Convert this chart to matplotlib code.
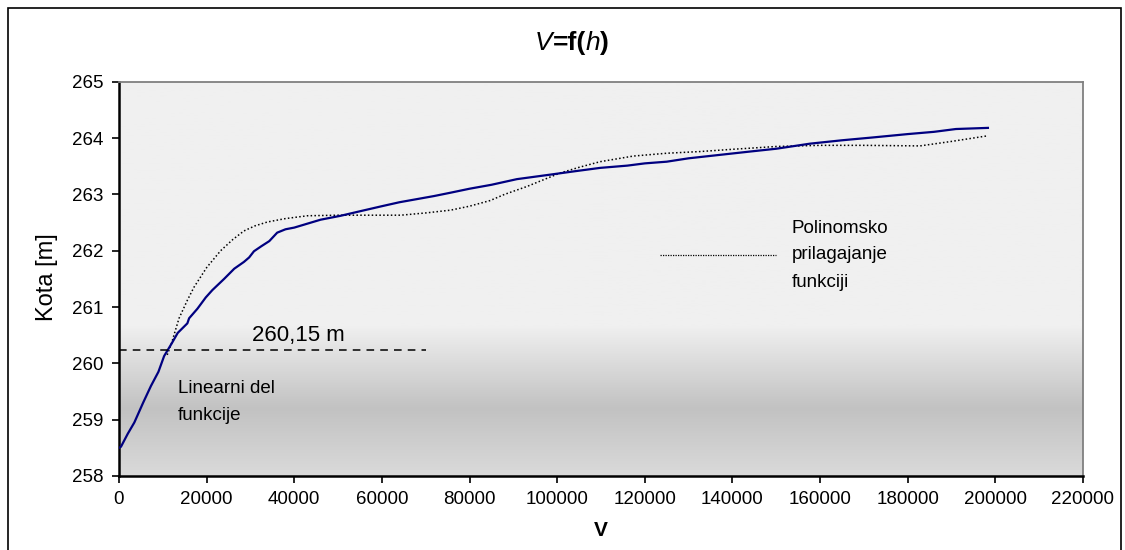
import numpy as np
import matplotlib
matplotlib.use("Agg")
import matplotlib.pyplot as plt
from matplotlib.colors import LinearSegmentedColormap
from matplotlib.patches import Rectangle

# ---- data ----
v_meas = [0, 450, 2000, 3500, 5500, 7300, 9000, 10300, 12000, 13400, 15600, 16000,
          17900, 19800, 21300, 24000, 26300, 28500, 29700, 30800, 32500, 34300,
          36100, 38000, 40000, 43000, 46000, 50600, 55000, 60000, 64000, 71900,
          75700, 80000, 85000, 90800, 98400, 104000, 109800, 116000, 120000,
          125000, 130000, 137000, 144000, 150000, 157700, 165000, 172000, 180000,
          186000, 191000, 198300]
h_meas = [258.50, 258.52, 258.75, 258.95, 259.30, 259.60, 259.85, 260.13, 260.35,
          260.54, 260.71, 260.80, 260.97, 261.17, 261.30, 261.50, 261.68, 261.80,
          261.88, 261.99, 262.08, 262.17, 262.32, 262.38, 262.41, 262.48, 262.55,
          262.62, 262.70, 262.79, 262.86, 262.97, 263.03, 263.10, 263.17, 263.27,
          263.35, 263.41, 263.47, 263.51, 263.55, 263.58, 263.64, 263.70, 263.76,
          263.81, 263.90, 263.96, 264.01, 264.07, 264.11, 264.16, 264.18]

v_poly = [11000, 12000, 13700, 15600, 17100, 20000, 23200, 26000, 28500, 31000,
          33900, 38000, 43000, 50000, 57000, 64300, 70000, 75700, 80000, 84700,
          88000, 93100, 100700, 105000, 109800, 117400, 125000, 132600, 140000,
          144100, 150000, 160000, 170000, 182800, 190000, 198300]
h_poly = [260.15, 260.36, 260.80, 261.12, 261.35, 261.70, 262.00, 262.20, 262.35,
          262.44, 262.51, 262.57, 262.62, 262.63, 262.63, 262.63, 262.67, 262.72,
          262.79, 262.89, 263.00, 263.14, 263.38, 263.48, 263.58, 263.68, 263.73,
          263.76, 263.80, 263.82, 263.85, 263.87, 263.87, 263.86, 263.94, 264.04]

x_ticks = list(range(0, 220001, 20000))
y_ticks = [258, 259, 260, 261, 262, 263, 264, 265]
limit_level = 260.24
limit_end = 70000

plt.rcParams['font.family'] = ['Liberation Sans', 'DejaVu Sans']

W, H = 1125, 550
fig = plt.figure(figsize=(W / 100, H / 100), dpi=100)
ax = fig.add_axes([119 / W, 1 - 476 / H, (1083 - 119) / W, (476 - 81.7) / H])

# background gradient
cmap = LinearSegmentedColormap.from_list(
    'bg', [(0.0, '#dadada'), (0.17, '#c2c2c2'), (0.38, '#f0f0f0'), (1.0, '#f0f0f0')])
grad = np.linspace(0, 1, 256).reshape(-1, 1)
ax.imshow(grad, cmap=cmap, origin='lower', aspect='auto',
          extent=[0, 220000, 258, 265], zorder=0)

ax.plot(v_poly, h_poly, color='black', lw=1.1, ls=(0, (1, 1.5)), zorder=3)
ax.plot(v_meas, h_meas, color='#000080', lw=1.6, zorder=4)
ax.plot([0, limit_end], [limit_level, limit_level], color='black', lw=1.1,
        ls=(0, (5, 4)), zorder=5)

ax.set_xlim(0, 220000)
ax.set_ylim(258, 265)
ax.set_xticks(x_ticks)
ax.set_yticks(y_ticks)
ax.tick_params(direction='out', length=5, width=1.2, labelsize=13.5, pad=6)

for s in ['left', 'bottom']:
    ax.spines[s].set_linewidth(1.8)
    ax.spines[s].set_color('black')
for s in ['top', 'right']:
    ax.spines[s].set_linewidth(1.3)
    ax.spines[s].set_color('#808080')

ax.text(41000, 260.30, '260,15 m', fontsize=16, ha='center', va='bottom', zorder=6)
ax.text(13500, 259.55, 'Linearni del', fontsize=13.5, ha='left', va='center')
ax.text(13500, 259.08, 'funkcije', fontsize=13.5, ha='left', va='center')

ax.plot([123500, 150000], [261.93, 261.93], color='black', lw=0.9, ls=(0, (1, 1)))
ax.text(153500, 262.40, 'Polinomsko', fontsize=13.5, ha='left', va='center')
ax.text(153500, 261.93, 'prilagajanje', fontsize=13.5, ha='left', va='center')
ax.text(153500, 261.44, 'funkciji', fontsize=13.5, ha='left', va='center')

# title built from pieces: V (italic) =f( (bold) h (italic) ) (bold)
pieces = [('V', 'italic', 'normal'), ('=f(', 'normal', 'bold'),
          ('h', 'italic', 'normal'), (')', 'normal', 'bold')]
renderer = fig.canvas.get_renderer()
texts = []
x = 0.0
ybase = 1 - 50 / H
for s, st, wt in pieces:
    t = fig.text(x, ybase, s, fontsize=19, style=st, fontweight=wt,
                 ha='left', va='baseline')
    w = t.get_window_extent(renderer).width / W
    texts.append((t, w))
    x += w
total = x
start = 572 / W - total / 2
x = start
for t, w in texts:
    t.set_x(x)
    x += w

fig.text(47 / W, 1 - 277.5 / H, 'Kota [m]', fontsize=17, rotation=90,
         ha='center', va='center')
fig.text(601 / W, 1 - 530 / H, 'V', fontsize=15, fontweight='bold',
         ha='center', va='center')

fig.patches.append(Rectangle((8 / W, -0.02), (1121 - 8) / W, 1 - 8 / H + 0.02,
                             transform=fig.transFigure, fill=False,
                             edgecolor='black', lw=1.2))

fig.savefig('out.png', dpi=100)
